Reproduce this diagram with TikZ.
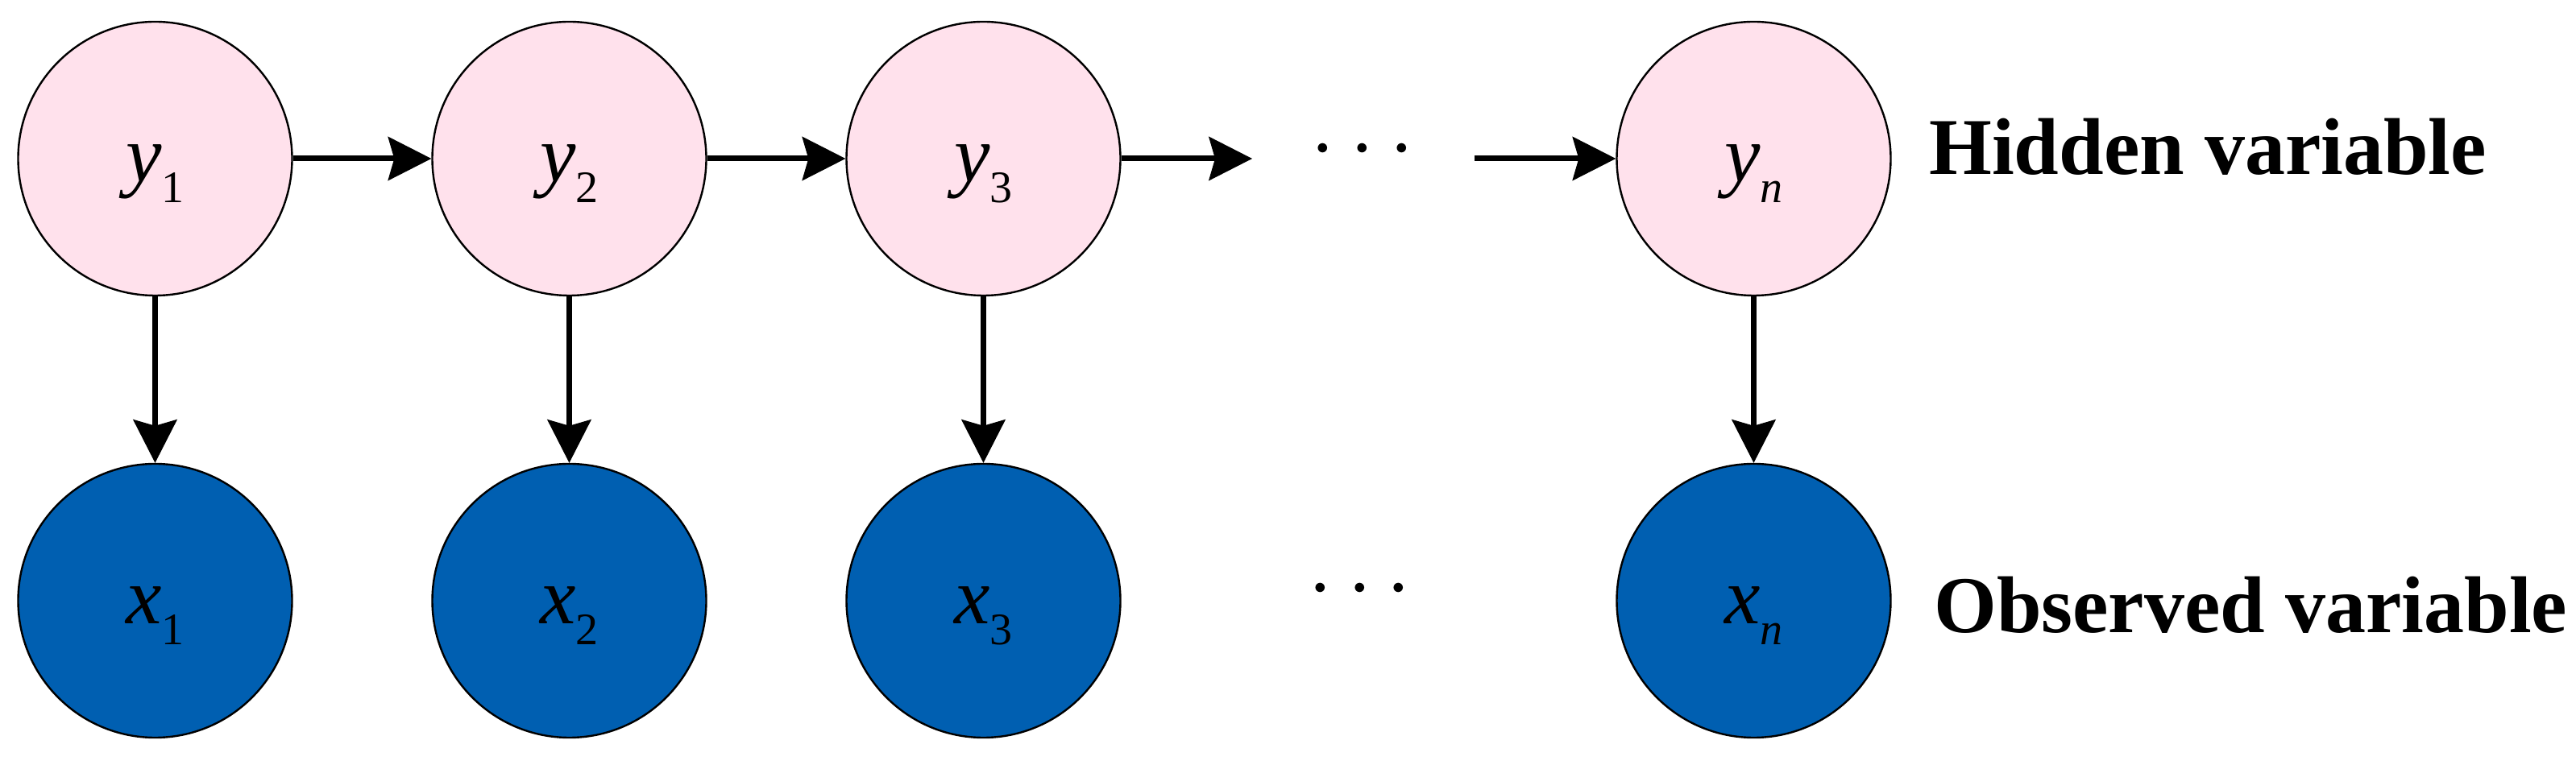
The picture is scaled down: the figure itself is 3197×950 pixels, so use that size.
\RequirePackage{fix-cm}
\documentclass[tikz,border=0pt]{standalone}
\usepackage{fontspec}
\setmainfont{LiberationSerif}[Extension=.ttf,UprightFont=*-Regular,BoldFont=*-Bold,ItalicFont=*-Italic,BoldItalicFont=*-BoldItalic]
\usetikzlibrary{arrows.meta}
\definecolor{hidpink}{HTML}{FFE1EC}
\definecolor{obsblue}{HTML}{005FB1}
\newcommand\varlab[2]{{\fontsize{100}{100}\selectfont\itshape #1}\raisebox{-26pt}{\fontsize{56}{56}\selectfont #2}}
\begin{document}
\begin{tikzpicture}[x=1pt,y=1pt,
  varnode/.style={circle,draw=black,line width=2.4pt,minimum size=340pt,inner sep=0pt,text height=57pt,text depth=0pt},
  hid/.style={varnode,fill=hidpink},
  obs/.style={varnode,fill=obsblue},
  arr/.style={line width=7pt,-{Stealth[length=54pt,width=55pt,inset=8pt,line width=1pt]}},
  caption/.style={font=\fontsize{100}{100}\selectfont\bfseries,anchor=base west,inner sep=0pt},
  dotsnode/.style={font=\fontsize{110}{110}\selectfont,anchor=base,inner sep=0pt}]
\useasboundingbox (0,0) rectangle (3197,950);
% hidden row
\node[hid] (y1) at (192.5,753) {\varlab{y}{1}};
\node[hid] (y2) at (706.5,753) {\varlab{y}{2}};
\node[hid] (y3) at (1220.5,753) {\varlab{y}{3}};
\node[hid] (yn) at (2176.5,753) {\varlab{y}{\itshape n}};
% observed row
\node[obs] (x1) at (192.5,204) {\varlab{x}{1}};
\node[obs] (x2) at (706.5,204) {\varlab{x}{2}};
\node[obs] (x3) at (1220.5,204) {\varlab{x}{3}};
\node[obs] (xn) at (2176.5,204) {\varlab{x}{\itshape n}};
% dots
\node[dotsnode] (dtop) at (1691,738.7) {$\cdots$};
\node[dotsnode] (dbot) at (1687.5,192.9) {$\cdots$};
\coordinate (a3end) at (1554,753);
\coordinate (anstart) at (1830,753);
% captions
\node[caption] (hcap) at (2394,733.7) {Hidden variable};
\node[caption] (ocap) at (2400,164.1) {Observed variable};
% connectors
\draw[arr] (y1) -- (y2);
\draw[arr] (y2) -- (y3);
\draw[arr] (y3) -- (a3end);
\draw[arr] (anstart) -- (yn);
\draw[arr] (y1) -- (x1);
\draw[arr] (y2) -- (x2);
\draw[arr] (y3) -- (x3);
\draw[arr] (yn) -- (xn);
\end{tikzpicture}
\end{document}
